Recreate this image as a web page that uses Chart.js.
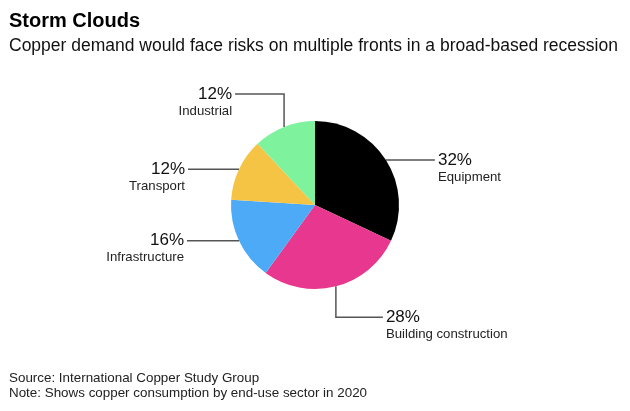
<!DOCTYPE html>
<html>
<head>
<meta charset="utf-8">
<script src="https://cdn.jsdelivr.net/npm/chart.js@4"></script>
<style>
  html, body { margin: 0; padding: 0; background: #ffffff; }
  body { width: 630px; height: 411px; position: relative; overflow: hidden; font-family: "Liberation Sans", Arial, Helvetica, sans-serif; color: #111; }
  #wrap { position: absolute; left: 0; top: 0; width: 630px; height: 411px; }
  .t { position: absolute; left: 9px; white-space: nowrap; }
  #title { top: 9px; font-size: 20px; font-weight: bold; color: #000; }
  #sub { top: 35px; font-size: 17.5px; color: #111; }
  #src { top: 370px; font-size: 13.4px; color: #222; line-height: 15px; }
</style>
</head>
<body>
<div id="wrap"><canvas id="c" width="630" height="411"></canvas></div>
<div class="t" id="title">Storm Clouds</div>
<div class="t" id="sub">Copper demand would face risks on multiple fronts in a broad-based recession</div>
<div class="t" id="src">Source: International Copper Study Group<br>Note: Shows copper consumption by end-use sector in 2020</div>
<script>
const categories = ["Equipment", "Building construction", "Infrastructure", "Transport", "Industrial"];
const shares = [32, 28, 16, 12, 12];
const percentLabels = ["32%", "28%", "16%", "12%", "12%"];
const sliceColors = ["#000000", "#e8378e", "#4daaf7", "#f6c444", "#7ff29d"];

// leader-line layout per slice: first leg direction/length, optional second leg
const leaders = [
  { legs: [["h", 49]], side: "right" },
  { legs: [["v", 31], ["h", 47]], side: "right" },
  { legs: [["h", -52]], side: "left" },
  { legs: [["h", -51]], side: "left" },
  { legs: [["v", -33], ["h", -49]], side: "left" }
];

const labelPlugin = {
  id: "leaderLabels",
  afterDatasetsDraw(chart) {
    const ctx = chart.ctx;
    const meta = chart.getDatasetMeta(0);
    meta.data.forEach((arc, i) => {
      const p = arc.getProps(["x", "y", "startAngle", "endAngle", "outerRadius"], true);
      const mid = (p.startAngle + p.endAngle) / 2;
      let x = p.x + Math.cos(mid) * p.outerRadius;
      let y = p.y + Math.sin(mid) * p.outerRadius;
      ctx.save();
      ctx.strokeStyle = "#555555";
      ctx.lineWidth = 1.5;
      ctx.beginPath();
      ctx.moveTo(x, y);
      leaders[i].legs.forEach(([d, len]) => {
        if (d === "h") x += len; else y += len;
        ctx.lineTo(x, y);
      });
      ctx.stroke();
      const right = leaders[i].side === "right";
      const tx = right ? x + 3 : x - 3;
      ctx.textAlign = right ? "left" : "right";
      ctx.textBaseline = "middle";
      ctx.fillStyle = "#111111";
      ctx.font = "17px 'Liberation Sans', Arial, sans-serif";
      ctx.fillText(percentLabels[i], tx, y);
      ctx.fillStyle = "#222222";
      ctx.font = "13.2px 'Liberation Sans', Arial, sans-serif";
      ctx.fillText(categories[i], tx, y + 17);
      ctx.restore();
    });
  }
};

new Chart(document.getElementById("c"), {
  type: "pie",
  data: {
    labels: categories,
    datasets: [{
      data: shares,
      backgroundColor: sliceColors,
      borderWidth: 0
    }]
  },
  options: {
    responsive: false,
    animation: false,
    layout: { padding: { left: 231, right: 231, top: 121, bottom: 122 } },
    plugins: {
      legend: { display: false },
      tooltip: { enabled: false },
      title: { display: false }
    }
  },
  plugins: [labelPlugin]
});
</script>
</body>
</html>
